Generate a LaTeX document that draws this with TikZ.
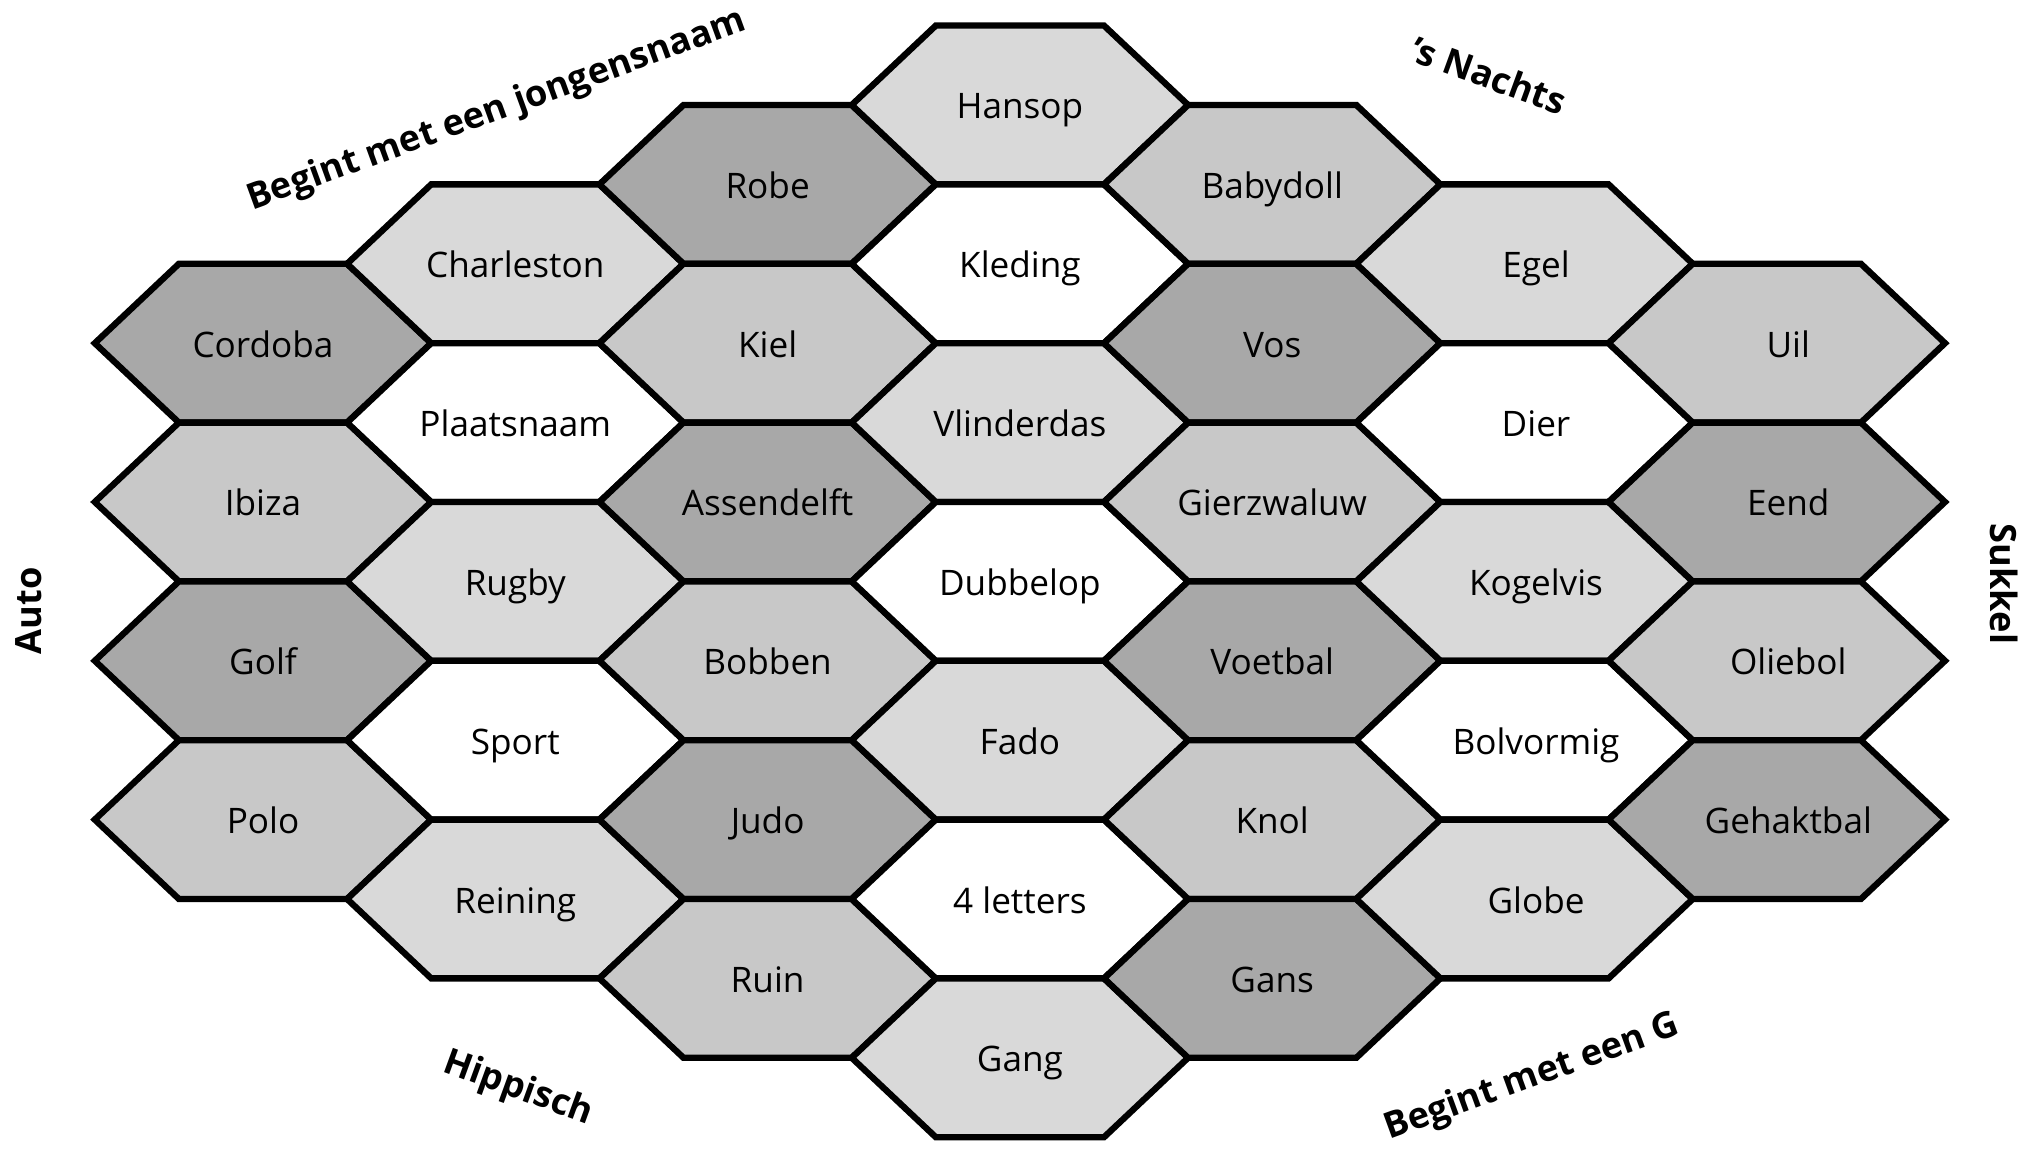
\documentclass[tikz,border=0pt]{standalone}
\usepackage{fontspec}
\setmainfont{Open Sans}
\definecolor{TileDark}{RGB}{168,168,168}
\definecolor{TileMid}{RGB}{200,200,200}
\definecolor{TileLight}{RGB}{217,217,217}
\begin{document}
\begin{tikzpicture}[
      tile/.style={draw=black,line width=1.8pt,line join=miter},
      word/.style={font=\fontsize{10}{12}\selectfont,inner sep=0pt,anchor=base},
      theme/.style={font=\fontsize{10.3}{12}\selectfont\bfseries,inner sep=0pt}]
    \useasboundingbox (0,0) rectangle (20.3,-11.5);
    % honeycomb: column/half-row/fill/word
    \foreach \c/\k/\f/\t in {0/3/TileDark/Cordoba,0/5/TileMid/Ibiza,0/7/TileDark/Golf,0/9/TileMid/Polo,
        1/2/TileLight/Charleston,1/4/white/Plaatsnaam,1/6/TileLight/Rugby,1/8/white/Sport,1/10/TileLight/Reining,
        2/1/TileDark/Robe,2/3/TileMid/Kiel,2/5/TileDark/Assendelft,2/7/TileMid/Bobben,2/9/TileDark/Judo,2/11/TileMid/Ruin,
        3/0/TileLight/Hansop,3/2/white/Kleding,3/4/TileLight/Vlinderdas,3/6/white/Dubbelop,3/8/TileLight/Fado,3/10/white/4 letters,3/12/TileLight/Gang,
        4/1/TileMid/Babydoll,4/3/TileDark/Vos,4/5/TileMid/Gierzwaluw,4/7/TileDark/Voetbal,4/9/TileMid/Knol,4/11/TileDark/Gans,
        5/2/TileLight/Egel,5/4/white/Dier,5/6/TileLight/Kogelvis,5/8/white/Bolvormig,5/10/TileLight/Globe,
        6/3/TileMid/Uil,6/5/TileDark/Eend,6/7/TileMid/Oliebol,6/9/TileDark/Gehaktbal}{
      \coordinate (m) at (2.63+2.523*\c,-1.05-0.794*\k);
      \pgfmathsetmacro\dx{(\c>4)*0.115}
      \filldraw[tile,fill=\f] ([xshift=-1.682cm]m) -- ++(0.841,0.794) -- ++(1.682,0)
        -- ++(0.841,-0.794) -- ++(-0.841,-0.794) -- ++(-1.682,0) -- cycle;
      \node[word] (t\c-\k) at ([xshift=\dx cm,yshift=-0.14cm]m) {\t};
    }
    % themes round the edge
    \node[theme,rotate=20] (jongens) at (4.97,-1.11) {Begint met een jongensnaam};
    \node[theme,rotate=-20] (nachts) at (14.89,-0.75) {’s Nachts};
    \node[theme,rotate=90] (auto) at (0.29,-6.11) {Auto};
    \node[theme,rotate=-90] (sukkel) at (20.04,-5.84) {Sukkel};
    \node[theme,rotate=-20] (hippisch) at (5.18,-10.89) {Hippisch};
    \node[theme,rotate=20] (gletter) at (15.32,-10.78) {Begint met een G};
  \end{tikzpicture}
\end{document}
